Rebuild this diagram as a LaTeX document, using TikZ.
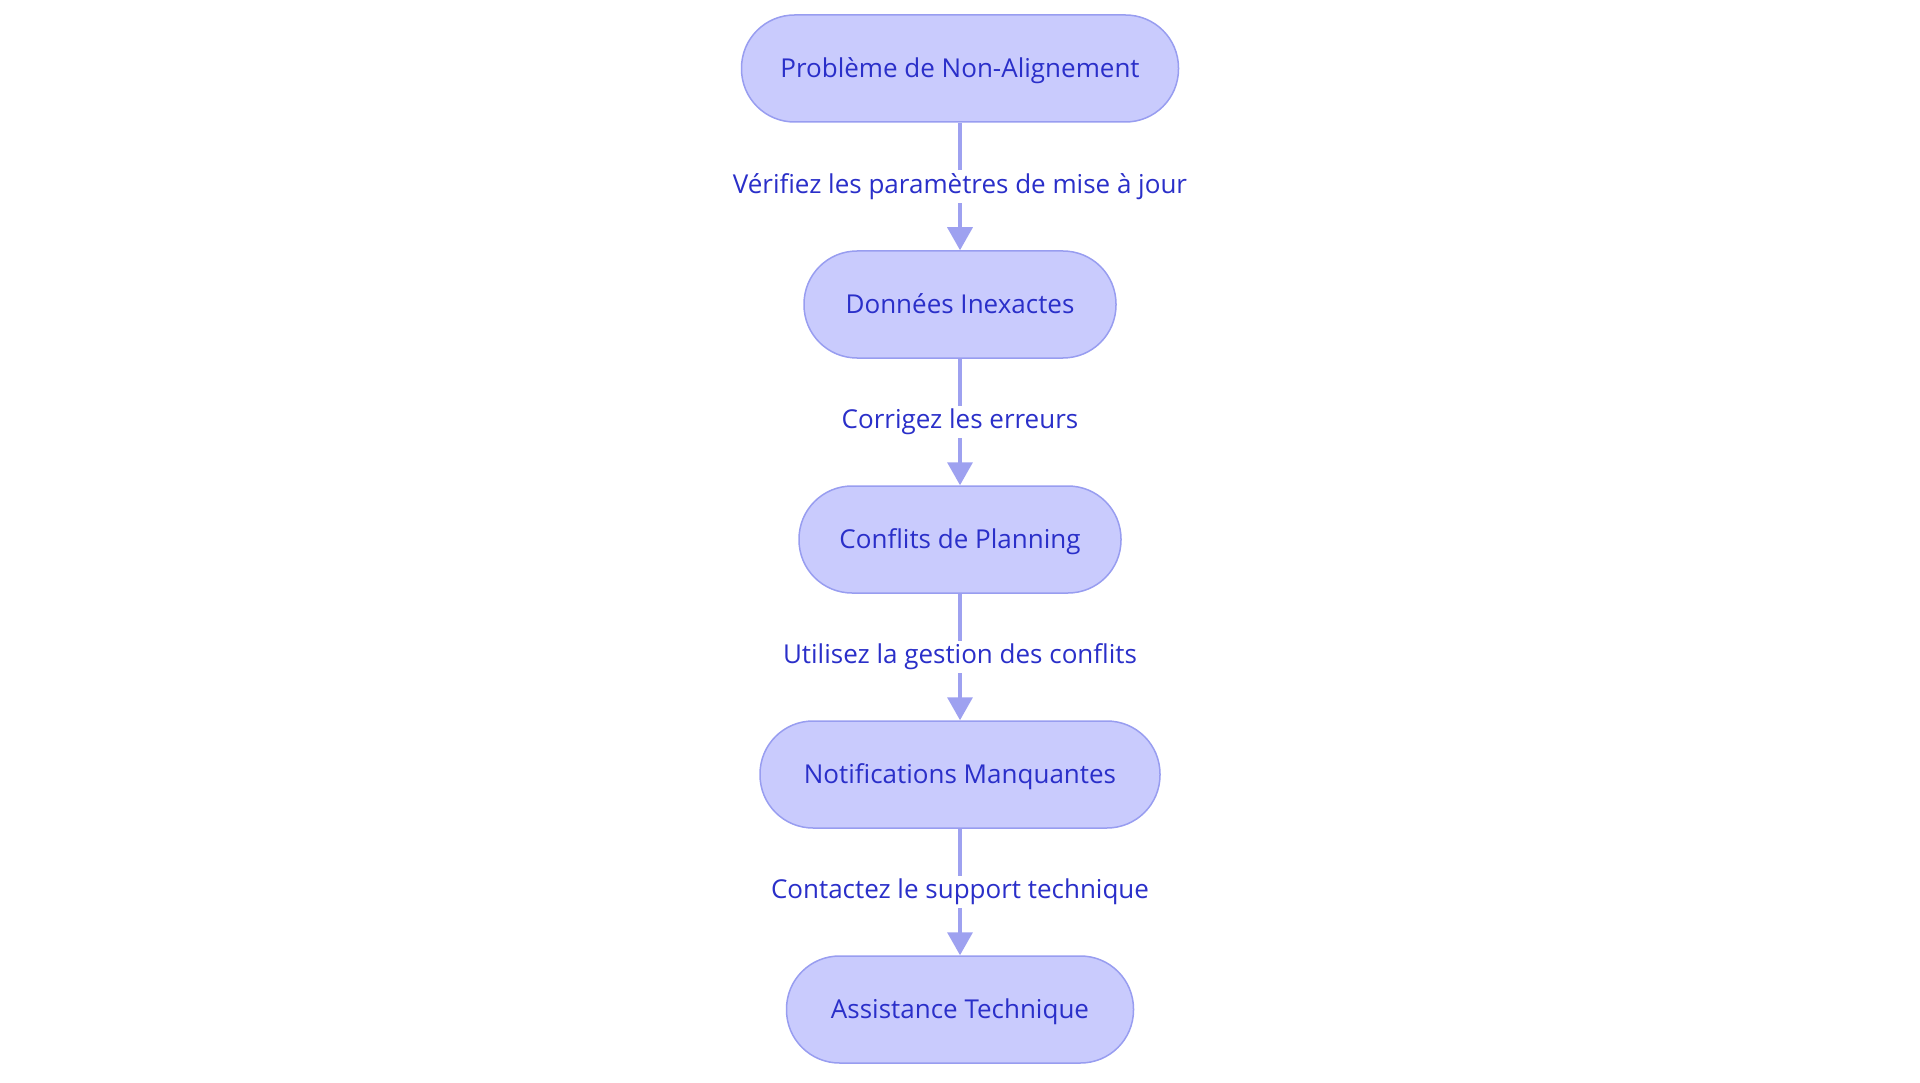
\documentclass[tikz,border=0pt]{standalone}
\usepackage{fontspec}
\setmainfont{Open Sans}
\usetikzlibrary{arrows.meta}
\definecolor{nodefill}{RGB}{201,203,253}
\definecolor{nodeborder}{RGB}{152,157,240}
\definecolor{textblue}{RGB}{42,47,201}
\definecolor{linecol}{RGB}{158,161,240}
\begin{document}
\begin{tikzpicture}[x=1pt,y=-1pt,
  box/.style={draw=nodeborder, fill=nodefill, line width=1.5pt, rounded corners=53pt,
    minimum height=107pt, text=textblue, font=\fontsize{26}{30}\selectfont, inner sep=0pt,
    text height=18pt, text depth=0pt},
  conn/.style={draw=linecol, line width=3.5pt, -{Triangle[length=23pt,width=25pt]}},
  lab/.style={fill=white, text=textblue, font=\fontsize{26}{30}\selectfont, inner xsep=1pt, inner ysep=3pt}]
\useasboundingbox (0,0) rectangle (1920,1083);
\node[box, minimum width=437pt] (n1) at (960,68.5) {Problème de Non-Alignement};
\node[box, minimum width=312pt] (n2) at (960,304.5) {Données Inexactes};
\node[box, minimum width=322pt] (n3) at (960,539.5) {Conflits de Planning};
\node[box, minimum width=400pt] (n4) at (960,774.5) {Notifications Manquantes};
\node[box, minimum width=347pt] (n5) at (960,1009.5) {Assistance Technique};
\draw[conn] (n1) -- node[lab] {Vérifiez les paramètres de mise à jour} (n2);
\draw[conn] (n2) -- node[lab] {Corrigez les erreurs} (n3);
\draw[conn] (n3) -- node[lab] {Utilisez la gestion des conflits} (n4);
\draw[conn] (n4) -- node[lab] {Contactez le support technique} (n5);
\end{tikzpicture}
\end{document}
